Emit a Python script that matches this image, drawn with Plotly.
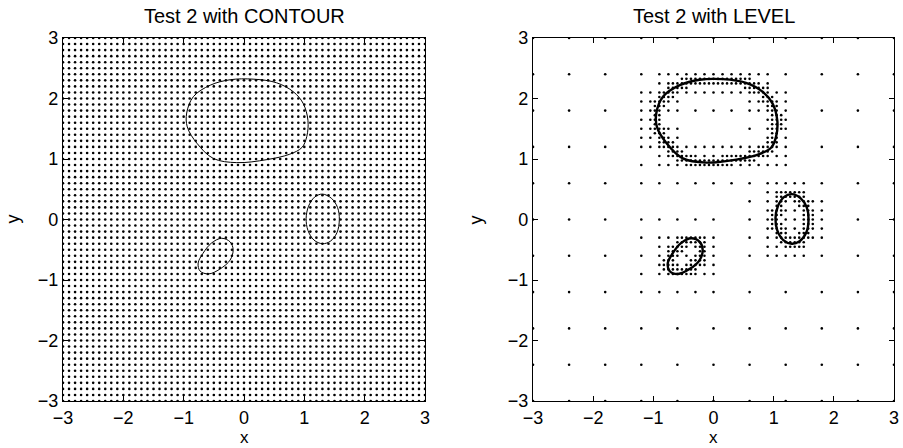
import numpy as np
import plotly.graph_objects as go

# ---------------- data ----------------
AXIS_MIN, AXIS_MAX = -3.0, 3.0
FINE_STEP = 0.1          # CONTOUR sampling grid
COARSE_STEP = 0.6        # LEVEL starting grid
LEVEL_DEPTH = 3          # number of LEVEL refinements near the curve
TICKS = [-3, -2, -1, 0, 1, 2, 3]

# level curve (three closed branches)
big_x = [0.15, 0.54, 0.82, 0.98, 1.06, 1.04, 0.96, 0.76, 0.38, -0.12, -0.51, -0.78, -0.94, -0.95, -0.84, -0.56, -0.23, 0.15]
big_y = [2.32, 2.26, 2.11, 1.92, 1.64, 1.37, 1.19, 1.08, 0.99, 0.94, 1.01, 1.26, 1.53, 1.76, 2.03, 2.22, 2.31, 2.32]

right_x = [1.30, 1.45, 1.55, 1.58, 1.54, 1.43, 1.30, 1.16, 1.06, 1.03, 1.07, 1.17, 1.30]
right_y = [0.42, 0.35, 0.20, 0.00, -0.22, -0.36, -0.40, -0.34, -0.18, 0.02, 0.22, 0.37, 0.42]

small_x = [-0.37, -0.23, -0.18, -0.23, -0.40, -0.59, -0.73, -0.76, -0.68, -0.54, -0.37]
small_y = [-0.31, -0.37, -0.50, -0.67, -0.82, -0.90, -0.85, -0.72, -0.56, -0.39, -0.31]

curves = [(big_x, big_y), (right_x, right_y), (small_x, small_y)]

titles = ["Test 2 with CONTOUR", "Test 2 with LEVEL"]

# ---------------- grids ----------------
n_fine = int(round((AXIS_MAX - AXIS_MIN) / FINE_STEP)) + 1
fine_axis = np.linspace(AXIS_MIN, AXIS_MAX, n_fine)
FX, FY = np.meshgrid(fine_axis, fine_axis)


def seg_hits_box(p, q, x0, x1, y0, y1):
    dx, dy = q[0] - p[0], q[1] - p[1]
    t0, t1 = 0.0, 1.0
    for pp, qq in ((-dx, p[0] - x0), (dx, x1 - p[0]), (-dy, p[1] - y0), (dy, y1 - p[1])):
        if pp == 0:
            if qq < 0:
                return False
        else:
            r = qq / pp
            if pp < 0:
                if r > t1:
                    return False
                t0 = max(t0, r)
            else:
                if r < t0:
                    return False
                t1 = min(t1, r)
    return True


segments = []
for cx, cy in curves:
    for k in range(len(cx) - 1):
        segments.append(((cx[k], cy[k]), (cx[k + 1], cy[k + 1])))


def has_curve(x0, y0, s):
    return any(seg_hits_box(p, q, x0, x0 + s, y0, y0 + s) for p, q in segments)


level_pts = set()


def add_corners(x0, y0, s):
    for cx in (x0, x0 + s):
        for cy in (y0, y0 + s):
            level_pts.add((round(cx, 5), round(cy, 5)))


def refine(x0, y0, s, depth):
    crossing = has_curve(x0, y0, s)
    if depth < LEVEL_DEPTH or crossing:
        add_corners(x0, y0, s)
    if depth >= LEVEL_DEPTH or not crossing:
        return
    h = s / 2
    for ox in (0, h):
        for oy in (0, h):
            refine(x0 + ox, y0 + oy, h, depth + 1)


n_coarse = int(round((AXIS_MAX - AXIS_MIN) / COARSE_STEP))
for i in range(n_coarse):
    for j in range(n_coarse):
        refine(AXIS_MIN + i * COARSE_STEP, AXIS_MIN + j * COARSE_STEP, COARSE_STEP, 0)

lx = [p[0] for p in level_pts]
ly = [p[1] for p in level_pts]

# ---------------- figure ----------------
W, H = 903, 448
FONT = "Liberation Sans, Arial, Helvetica, sans-serif"
FS = 18

fig = go.Figure()

fig.add_trace(go.Scatter(x=FX.ravel(), y=FY.ravel(), mode="markers",
                         marker=dict(size=2.6, color="black"),
                         xaxis="x", yaxis="y", hoverinfo="skip"))
for cx, cy in curves:
    fig.add_trace(go.Scatter(x=cx, y=cy, mode="lines",
                             line=dict(color="black", width=1, shape="spline", smoothing=1.0),
                             xaxis="x", yaxis="y"))

fig.add_trace(go.Scatter(x=lx, y=ly, mode="markers",
                         marker=dict(size=2.6, color="black"),
                         xaxis="x2", yaxis="y2", hoverinfo="skip"))
for cx, cy in curves:
    fig.add_trace(go.Scatter(x=cx, y=cy, mode="lines",
                             line=dict(color="black", width=2.4, shape="spline", smoothing=1.0),
                             xaxis="x2", yaxis="y2"))

# pixel layout
left_px = (63, 425)
right_px = (533, 894)
top_px, bot_px = 38, 401


def dom_x(a):
    return [a[0] / W, a[1] / W]


ydom = [(H - bot_px) / H, (H - top_px) / H]

axis_common = dict(range=[AXIS_MIN, AXIS_MAX], tickvals=TICKS, ticks="inside", ticklen=5,
                   tickcolor="black", tickwidth=1, showline=True, linecolor="black",
                   linewidth=1.2, mirror="ticks", showgrid=False, zeroline=False,
                   automargin=False,
                   tickfont=dict(family=FONT, size=FS, color="black"), fixedrange=True)
xaxis_extra = dict(ticklabelstandoff=0)

fig.update_layout(
    template="none",
    width=W, height=H, margin=dict(l=0, r=0, t=0, b=0, autoexpand=False),
    paper_bgcolor="white", plot_bgcolor="white", showlegend=False,
    font=dict(family=FONT, size=FS, color="black"),
    xaxis=dict(domain=dom_x(left_px), anchor="y", **axis_common, **xaxis_extra),
    yaxis=dict(domain=ydom, anchor="x", **axis_common),
    xaxis2=dict(domain=dom_x(right_px), anchor="y2", **axis_common, **xaxis_extra),
    yaxis2=dict(domain=ydom, anchor="x2", **axis_common),
)

ann = []
for t, (a, b) in zip(titles, (left_px, right_px)):
    cxp = (a + b) / 2 / W
    ann.append(dict(text=t, x=cxp, y=1 - 16 / H, xref="paper", yref="paper",
                    showarrow=False, xanchor="center", yanchor="middle",
                    font=dict(family=FONT, size=20, color="black")))
    ann.append(dict(text="x", x=cxp, y=0, xref="paper", yref="paper",
                    showarrow=False, xanchor="center", yanchor="bottom", borderpad=0,
                    font=dict(family=FONT, size=17, color="black")))
for xp in (12, 475):
    ann.append(dict(text="y", x=xp / W, y=1 - 219.5 / H, xref="paper", yref="paper",
                    showarrow=False, xanchor="center", yanchor="middle", textangle=-90,
                    font=dict(family=FONT, size=FS, color="black")))
fig.update_layout(annotations=ann)

fig.write_html("out.html")
